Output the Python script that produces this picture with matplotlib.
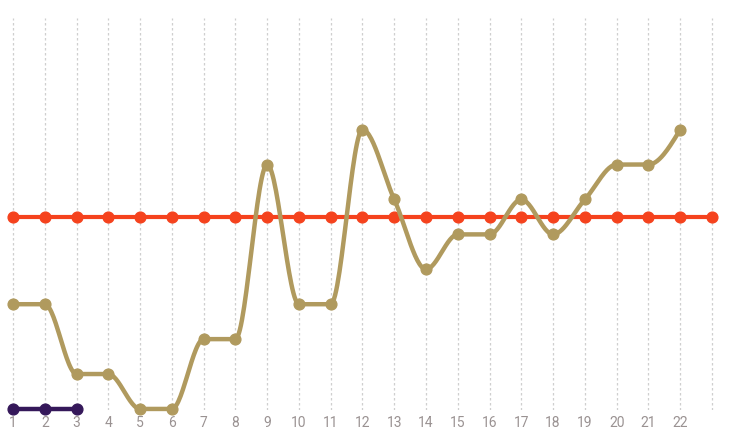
import numpy as np
import matplotlib
matplotlib.use('Agg')
import matplotlib.pyplot as plt

# === Data ===
categories = [str(i) for i in range(1, 23)] + ['']
gold_values = [3, 3, 1, 1, 0, 0, 2, 2, 7, 3, 3, 8, 6, 4, 5, 5, 6, 5, 6, 7, 7, 8]
red_values = [5.5] * 23
purple_values = [0, 0, 0]

GOLD = '#b09a5e'
RED = '#f5421d'
PURPLE = '#35185a'


# d3-style monotone cubic (curveMonotoneX) for the line shape
def monotone_curve(x, y, n=30):
    x = np.asarray(x, float)
    y = np.asarray(y, float)
    m = len(x)
    h = np.diff(x)
    s = np.diff(y) / h
    t = np.zeros(m)
    for i in range(1, m - 1):
        s0, s1 = s[i - 1], s[i]
        p = (s0 * h[i] + s1 * h[i - 1]) / (h[i - 1] + h[i])
        t[i] = (np.sign(s0) + np.sign(s1)) * min(abs(s0), abs(s1), 0.5 * abs(p))
    if m > 2:
        t[0] = (3 * s[0] - t[1]) / 2
        t[-1] = (3 * s[-1] - t[-2]) / 2
    else:
        t[:] = s[0]
    xs, ys = [], []
    for i in range(m - 1):
        u = np.linspace(0, 1, n)
        h00 = 2 * u**3 - 3 * u**2 + 1
        h10 = u**3 - 2 * u**2 + u
        h01 = -2 * u**3 + 3 * u**2
        h11 = u**3 - u**2
        xs.append(x[i] + u * h[i])
        ys.append(h00 * y[i] + h10 * h[i] * t[i] + h01 * y[i + 1] + h11 * h[i] * t[i + 1])
    return np.concatenate(xs), np.concatenate(ys)


fig = plt.figure(figsize=(7.31, 4.44), dpi=100)
ax = fig.add_axes([0, 0.0766, 1, 0.883])

x_all = np.arange(1, len(categories) + 1)

# red series
ax.plot(x_all[:len(red_values)], red_values, color=RED, lw=3, zorder=3, clip_on=False)
ax.scatter(x_all[:len(red_values)], red_values, color=RED, s=60, zorder=3, clip_on=False)

# gold series
xg = x_all[:len(gold_values)]
cx, cy = monotone_curve(xg, gold_values)
ax.plot(cx, cy, color=GOLD, lw=3.2, zorder=4, clip_on=False, solid_capstyle='round')
ax.scatter(xg, gold_values, color=GOLD, s=60, zorder=4, clip_on=False)

# purple series
xp = x_all[:len(purple_values)]
ax.plot(xp, purple_values, color=PURPLE, lw=3.2, zorder=5, clip_on=False)
ax.scatter(xp, purple_values, color=PURPLE, s=60, zorder=5, clip_on=False)

ax.set_xlim(0.59, 23.6)
ax.set_ylim(-0.03, 11.2)
ax.set_xticks(x_all)
ax.set_xticklabels(categories, fontfamily='Roboto', fontsize=10, color='#9a9292')
ax.set_yticks([])
ax.tick_params(axis='x', length=0, pad=4)
ax.grid(axis='x', color='#cfcfcf', linestyle=(0, (2, 2)), lw=0.9)
ax.set_axisbelow(True)
for sp in ax.spines.values():
    sp.set_visible(False)

fig.savefig('out.png', dpi=100)
